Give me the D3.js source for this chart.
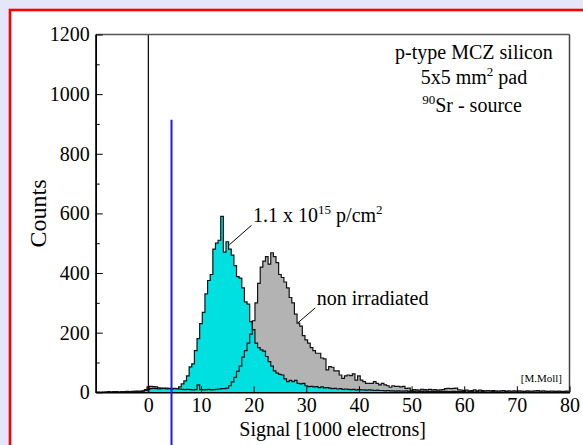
<!DOCTYPE html>
<html><head><meta charset="utf-8">
<script src="https://cdn.jsdelivr.net/npm/d3@7"></script>
<style>
html,body{margin:0;padding:0;background:#e6e6fa;overflow:hidden;}
svg{display:block;}
text{font-family:"Liberation Serif","Times New Roman",serif;fill:#000;}
</style></head><body>
<svg id="chart" width="583" height="445"></svg>
<script>
// Histogram binning: bin centres run from binStart in steps of binWidth (units of 1000 electrons)
const binStart = -10;
const binWidth = 0.5;

// 1.1e15 p/cm2 irradiated sensor
const irradiated = [
  0,0,0,0,1,0,1,0,1,1,
  1,2,1,2,2,3,2,3,4,6,
  10,12,13,12,11,12,13,11,12,11,
  12,12,18,28,38,55,85,95,140,180,
  230,268,330,375,395,480,500,510,590,470,
  505,480,460,425,388,383,350,303,296,237,
  210,165,150,142,138,120,103,88,72,64,
  60,58,45,36,40,36,40,30,28,30,
  22,19,20,18,19,16,18,15,16,14,
  12,13,11,12,10,11,10,9,10,8,
  9,8,8,7,8,7,6,7,6,6,
  5,6,5,5,4,5,4,4,5,3,
  4,3,4,3,3,4,3,2,3,3,
  2,3,2,3,2,2,3,2,2,2,
  2,1,2,2,1,2,1,2,1,1,
  1,2,1,1,1,1,2,1,1,1,
  1,1,1,0,1,1,1,0,1,1,
  0,1,1,0,1,0,1,0,0,1,0
];

// non irradiated reference sensor
const nonIrradiated = [
  0,1,0,1,1,2,1,2,2,1,
  2,2,3,2,3,3,4,3,5,9,
  18,20,19,18,15,14,13,14,13,12,
  13,12,11,10,9,10,9,8,9,25,
  9,8,9,10,8,9,10,11,12,12,
  14,22,35,50,70,88,118,140,165,195,
  240,300,365,420,440,455,430,468,455,435,
  395,385,370,350,318,300,262,232,222,190,
  176,165,150,140,131,131,115,112,75,86,
  84,72,72,58,47,55,58,56,62,41,
  55,41,36,30,30,30,36,30,25,30,
  25,22,17,22,20,20,18,20,13,14,
  6,9,8,7,10,9,8,10,8,9,
  7,8,9,12,13,12,13,14,8,7,
  6,7,5,6,8,5,7,6,5,6,
  5,6,5,4,5,6,4,5,4,5,
  4,5,4,3,5,4,4,5,6,4,
  5,4,3,4,4,3,4,3,3,4,0
];

const xTicks = [0,10,20,30,40,50,60,70,80];
const yTicks = [0,200,400,600,800,1000,1200];
const yMinorTicks = [100,300,500,700,900,1100];

// threshold marker position (1000 electrons) and its upper end (counts)
const cutPosition = 4.4;
const cutTop = 914;

const serif = '"Liberation Serif","Times New Roman",serif';
const svg = d3.select("#chart");
const W = 583, H = 445;
const m = {left:95.7, right:569.5, top:34.5, bottom:392.3};

// page frame (only its left and top edges fall inside the view)
svg.append("rect").attr("x",10).attr("y",10).attr("width",2000).attr("height",2000)
  .attr("fill","#fff").attr("stroke","#ff0000").attr("stroke-width",2.6);

const x = d3.scaleLinear().domain([-10,80]).range([m.left,m.right]);
const y = d3.scaleLinear().domain([0,1200]).range([m.bottom,m.top]);

svg.append("clipPath").attr("id","plotClip").append("rect")
  .attr("x",m.left).attr("y",m.top).attr("width",m.right-m.left).attr("height",m.bottom-m.top);

function stepPoints(values){
  const pts = [];
  values.forEach((v,i)=>{
    const c = binStart + i*binWidth;
    pts.push([c-binWidth/2, v],[c+binWidth/2, v]);
  });
  return pts;
}
const area = d3.area().x(d=>x(d[0])).y0(y(0)).y1(d=>y(d[1]));
const line = d3.line().x(d=>x(d[0])).y(d=>y(d[1]));

const plot = svg.append("g").attr("clip-path","url(#plotClip)");
const ptsN = stepPoints(nonIrradiated), ptsI = stepPoints(irradiated);

plot.append("path").datum(ptsN).attr("d",area).attr("fill","#b3b3b3");
plot.append("path").datum(ptsI).attr("d",area).attr("fill","#00e0e0");
plot.append("path").datum(ptsN).attr("d",line).attr("fill","none").attr("stroke","#111").attr("stroke-width",1.2);
plot.append("path").datum(ptsI).attr("d",line).attr("fill","none").attr("stroke","#111").attr("stroke-width",1.2);

// zero line
svg.append("line").attr("x1",x(0)).attr("x2",x(0)).attr("y1",m.top).attr("y2",m.bottom)
  .attr("stroke","#000").attr("stroke-width",1.2);

// frame top / right
svg.append("line").attr("x1",m.left).attr("x2",m.right).attr("y1",m.top).attr("y2",m.top)
  .attr("stroke","#555").attr("stroke-width",1.5);
svg.append("line").attr("x1",m.right).attr("x2",m.right).attr("y1",m.top).attr("y2",m.bottom)
  .attr("stroke","#444").attr("stroke-width",1.5);

// axes
svg.append("g").attr("transform",`translate(${m.left},0)`)
  .call(d3.axisLeft(y).tickValues(yTicks).tickFormat(d3.format("d"))
    .tickSizeInner(-7).tickSizeOuter(0).tickPadding(6));
svg.append("g").attr("transform",`translate(${m.left},0)`)
  .call(d3.axisLeft(y).tickValues(yMinorTicks).tickSizeInner(-4).tickSizeOuter(0).tickFormat(""));
svg.append("g").attr("transform",`translate(0,${m.bottom})`)
  .call(d3.axisBottom(x).tickValues(xTicks).tickFormat(d3.format("d"))
    .tickSizeInner(-6).tickSizeOuter(0).tickPadding(6));
svg.selectAll(".domain").attr("stroke","#000").attr("stroke-width",1.5);
svg.selectAll(".tick line").attr("stroke","#000").attr("stroke-width",1);
svg.selectAll(".tick text").style("font-size","20px").style("font-family",serif).attr("fill","#000");

// threshold marker
svg.append("line").attr("x1",x(cutPosition)).attr("x2",x(cutPosition)).attr("y1",y(cutTop)).attr("y2",H)
  .attr("stroke","#1a1aff").attr("stroke-width",2);

// axis titles
svg.append("text").attr("transform",`translate(46,${(m.top+m.bottom)/2}) rotate(-90)`)
  .attr("text-anchor","middle").style("font-size","24px").text("Counts");
svg.append("text").attr("x",(m.left+m.right)/2).attr("y",436)
  .attr("text-anchor","middle").style("font-size","20px").text("Signal [1000 electrons]");

// info block
const info = svg.append("g").style("font-size","20px").attr("text-anchor","middle");
info.append("text").attr("x",474).attr("y",59).text("p-type MCZ silicon");
const t2 = info.append("text").attr("x",474).attr("y",84);
t2.append("tspan").text("5x5 mm");
t2.append("tspan").style("font-size","13px").attr("dy",-8).text("2");
t2.append("tspan").attr("dy",8).text(" pad");
const t3 = info.append("text").attr("x",472).attr("y",112);
t3.append("tspan").style("font-size","13px").attr("dy",-8).text("90");
t3.append("tspan").attr("dy",8).text("Sr - source");

// series labels with leader lines
const a1 = svg.append("text").attr("x",x(19.9)).attr("y",y(571)).style("font-size","20px");
a1.append("tspan").text("1.1 x 10");
a1.append("tspan").style("font-size","13px").attr("dy",-8).text("15");
a1.append("tspan").attr("dy",8).text(" p/cm");
a1.append("tspan").style("font-size","13px").attr("dy",-8).text("2");
svg.append("line").attr("x1",x(19.6)).attr("y1",y(560)).attr("x2",x(15.4)).attr("y2",y(495))
  .attr("stroke","#000").attr("stroke-width",1);

svg.append("text").attr("x",x(32.0)).attr("y",y(293)).style("font-size","20px").text("non irradiated");
svg.append("line").attr("x1",x(31.7)).attr("y1",y(283)).attr("x2",x(28.4)).attr("y2",y(233))
  .attr("stroke","#000").attr("stroke-width",1);

svg.append("text").attr("x",562).attr("y",382).attr("text-anchor","end").style("font-size","11px").text("[M.Moll]");
</script>
</body></html>
